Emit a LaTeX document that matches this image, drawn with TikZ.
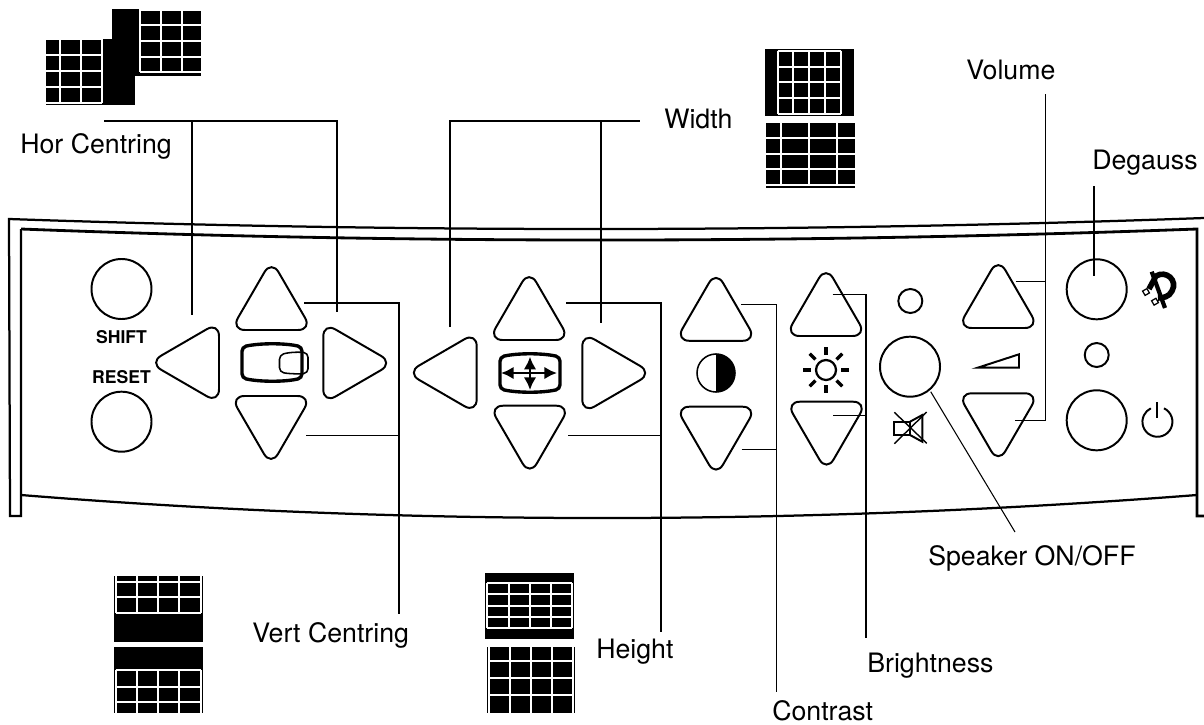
\documentclass[tikz,border=0pt]{standalone}
\usepackage{fontspec}
\usetikzlibrary{arrows.meta}
\setmainfont{TeX Gyre Heros}

\tikzset{
  btnline/.style={line width=1.4pt,line join=round},
  rndbtn/.style={circle,draw,line width=1.4pt,minimum size=1.5cm,inner sep=0pt},
  ledlamp/.style={circle,draw,line width=1.4pt,minimum size=0.6cm,inner sep=0pt},
  leader/.style={line width=0.75pt},
  lbl/.style={anchor=base west,font=\fontsize{19}{19}\selectfont,inner sep=0pt},
  keylbl/.style={font=\bfseries\fontsize{12.5}{13}\selectfont,inner sep=0pt},
  bezel/.style={line width=1.6pt},
  gridline/.style={white,line width=1.3pt}
}

% rounded triangle key: name, centre x, centre y, rotation
\newcommand{\tribtn}[4]{%
  \coordinate (#1) at (#2,#3);
  \draw[btnline,shift={(#2,#3)},rotate=#4,rounded corners=10pt]
    (0,-46.7) -- (40.6,23.3) -- (-40.6,23.3) -- cycle;}
\newcommand{\gridV}[3]{\foreach \gx in {#1} \draw[gridline] (\gx,#2) -- (\gx,#3);}
\newcommand{\gridH}[3]{\foreach \gy in {#1} \draw[gridline] (#2,\gy) -- (#3,\gy);}

\begin{document}
\begin{tikzpicture}[x=0.025cm,y=-0.025cm]
  \useasboundingbox (0,0) rectangle (1204,724);

  % --- Bezel ---
  \draw[bezel] (1204,218) .. controls (800,232.5) and (400,232.5) .. (9,219)
       -- (10,516) -- (21,516) -- (21,229);
  \draw[bezel,line width=2pt] (21,229) .. controls (400,243.7) and (800,243.7) .. (1197,229)
       -- (1197,516) -- (1204,516);
  \draw[bezel] (21,495) .. controls (400,525.7) and (800,525.7) .. (1197,495);

  % --- Round keys ---
  \node[rndbtn] (shiftkey) at (121.5,289) {};
  \node[rndbtn] (resetkey) at (121.5,421.7) {};
  \node[rndbtn] (mutekey) at (910,366.7) {};
  \node[rndbtn] (degausskey) at (1096.7,289.3) {};
  \node[rndbtn] (powerkey) at (1096.7,420.3) {};
  \node[ledlamp] (mutelamp) at (910.3,301) {};
  \node[ledlamp] (powerlamp) at (1096.7,355) {};
  \node[keylbl] (shiftlbl) at (121.5,337) {SHIFT};
  \node[keylbl] (resetlbl) at (121.5,377) {RESET};

  % --- Triangle keys ---
  \tribtn{hcup}{271.5}{306.7}{0}
  \tribtn{hcdn}{271}{419.3}{180}
  \tribtn{hcle}{195.7}{362.7}{90}
  \tribtn{hcri}{346.6}{363}{-90}
  \tribtn{whup}{529.2}{316.7}{0}
  \tribtn{whdn}{529.7}{429}{180}
  \tribtn{whle}{453.4}{372.7}{90}
  \tribtn{whri}{605.6}{373}{-90}
  \tribtn{coup}{716}{317.5}{0}
  \tribtn{codn}{716}{430}{180}
  \tribtn{brup}{826}{312.7}{0}
  \tribtn{brdn}{826.5}{425}{180}
  \tribtn{voup}{998.3}{304.7}{0}
  \tribtn{vodn}{998.3}{416.6}{180}

  % --- Icons ---
  \draw[line width=2.4pt,rounded corners=3pt] (242,347) .. controls (260,343) and (285,343) .. (302,347)
       -- (302,378) .. controls (285,382) and (260,382) .. (242,378) -- cycle;
  \draw[line width=1.1pt,rounded corners=3pt] (279.5,355) .. controls (290,352) and (300,352) .. (308,353)
       -- (308,373) .. controls (300,374) and (290,374) .. (279.5,372) -- cycle;

  \draw[line width=2.4pt,rounded corners=3pt] (500,357) .. controls (518,353) and (542,353) .. (560,357)
       -- (560,389) .. controls (542,393) and (518,393) .. (500,389) -- cycle;
  \draw[line width=1.8pt,<->,>={Latex[length=9pt,width=9pt]}] (501,373) -- (557,373);
  \draw[line width=1.8pt,<->,>={Latex[length=9pt,width=9pt]}] (530,356.7) -- (530,390);

  \node[circle,draw,line width=1.1pt,minimum size=0.95cm,inner sep=0pt] (contrasticon) at (716,373) {};
  \fill (716,354) arc[start angle=-90,end angle=90,radius=19] -- cycle;

  \draw[line width=1.6pt] (826,370) circle[radius=10];
  \foreach \ang in {0,45,...,315}
    \draw[line width=2.4pt] ({826+15*cos(\ang)},{370+15*sin(\ang)}) -- ({826+23*cos(\ang)},{370+23*sin(\ang)});

  \draw[line width=1.4pt] (894.3,421.7) rectangle (910,435);
  \draw[line width=1.4pt] (910,421.7) -- (922.3,415) -- (922.3,441.7) -- (910,435);
  \draw[line width=1pt] (894.3,412.3) -- (926.7,443.3);
  \draw[line width=1pt] (894.3,443.7) -- (926.7,412);

  \draw[line width=1.4pt] (977.7,367.7) -- (1019,367.7) -- (1019,354.3) -- cycle;

  % degauss plug
  \draw[line width=3pt] (1151.7,271.7) -- (1165,308);
  \draw[line width=4pt] (1149,289) -- (1156,276) .. controls (1166,270) and (1178,280) .. (1172,291)
       .. controls (1169,297) and (1163,298) .. (1158,298);
  \draw[line width=0.9pt,fill=white,rotate around={30:(1146,292)}] (1143.5,289.5) rectangle (1148.5,294.5);
  \draw[line width=0.9pt,fill=white,rotate around={30:(1155,301.7)}] (1152.5,299.2) rectangle (1157.5,304.2);

  % power sign
  \draw[line width=1.4pt] (1164,408.3) arc[start angle=-64,end angle=244,radius=15];
  \draw[line width=1.4pt] (1157.3,402.3) -- (1157.3,418);

  % --- Leaders ---
  \coordinate (hcA) at (104,121);
  \coordinate (hcB) at (337,121);
  \coordinate (hcC) at (192,121);
  \coordinate (hcD) at (192,315);
  \coordinate (hcE) at (337,312);
  \draw[leader] (hcA) -- (hcB) -- (hcE);
  \draw[leader] (hcC) -- (hcD);

  \coordinate (vcA) at (304,303);
  \coordinate (vcB) at (399,303);
  \coordinate (vcC) at (399,614);
  \coordinate (vcD) at (306,435.7);
  \coordinate (vcE) at (399,435.7);
  \draw[leader] (vcA) -- (vcB) -- (vcC);
  \draw[leader] (vcD) -- (vcE);

  \coordinate (wiA) at (450,327);
  \coordinate (wiB) at (450,121);
  \coordinate (wiC) at (640,121);
  \coordinate (wiD) at (601,121);
  \coordinate (wiE) at (601,323);
  \draw[leader] (wiA) -- (wiB) -- (wiC);
  \draw[leader] (wiD) -- (wiE);

  \coordinate (heA) at (566,303);
  \coordinate (heB) at (661,303);
  \coordinate (heC) at (661,632);
  \coordinate (heD) at (568,435.7);
  \coordinate (heE) at (661,435.7);
  \draw[leader] (heA) -- (heB) -- (heC);
  \draw[leader] (heD) -- (heE);

  \coordinate (ctA) at (741,304.3);
  \coordinate (ctB) at (776.7,304.3);
  \coordinate (ctC) at (776.7,692);
  \coordinate (ctD) at (741.6,449.7);
  \coordinate (ctE) at (776.7,449.7);
  \draw[leader] (ctA) -- (ctB) -- (ctC);
  \draw[leader] (ctD) -- (ctE);

  \coordinate (bgA) at (832.7,294.3);
  \coordinate (bgB) at (866,294.3);
  \coordinate (bgC) at (866,638);
  \coordinate (bgD) at (833,415.7);
  \coordinate (bgE) at (866,415.7);
  \draw[leader] (bgA) -- (bgB) -- (bgC);
  \draw[leader] (bgD) -- (bgE);

  \coordinate (voA) at (1045.7,94);
  \coordinate (voB) at (1045.7,420.5);
  \coordinate (voC) at (1015,420.5);
  \coordinate (voD) at (1015.7,281.7);
  \coordinate (voE) at (1045.7,281.7);
  \draw[leader] (voA) -- (voB) -- (voC);
  \draw[leader] (voD) -- (voE);

  \coordinate (dgA) at (1094,186);
  \coordinate (dgB) at (1094,276);
  \draw[leader] (dgA) -- (dgB);

  \coordinate (spA) at (930.7,391.7);
  \coordinate (spB) at (1015,532);
  \draw[leader] (spA) -- (spB);

  % --- Labels ---
  \node[lbl] (hclbl) at (20,153) {Hor Centring};
  \node[lbl] (wilbl) at (664,128.5) {Width};
  \node[lbl] (volbl) at (966,79) {Volume};
  \node[lbl] (dglbl) at (1092,169) {Degauss};
  \node[lbl] (splbl) at (928,565.7) {Speaker ON/OFF};
  \node[lbl] (vclbl) at (252,642) {Vert Centring};
  \node[lbl] (helbl) at (596,658) {Height};
  \node[lbl] (bglbl) at (867,672) {Brightness};
  \node[lbl] (ctlbl) at (772,720) {Contrast};

  % --- Test patterns: top left ---
  \fill (112,9) rectangle (139,76);
  \fill (139,10) rectangle (201,76);
  \fill (46,39) rectangle (135,105);
  \fill (103,39) rectangle (135,105);
  \gridV{140,161,182}{10}{72}
  \gridH{10,25,40.7,56.7,72.3}{140}{201}
  \gridV{60,81,102.3}{39}{103.3}
  \gridH{39.3,55,71,86.7,103.3}{46}{102.3}

  % --- Test patterns: top right ---
  \fill (765,49) rectangle (854,116);
  \gridV{777.7,793.3,809,825,840.7}{50.7}{114}
  \gridH{50.7,66.7,82.3,98.3,114}{777.7}{840.7}
  \fill (766,120.7) rectangle (855,187.7);
  \gridV{780.7,808.7,837}{122.3}{185}
  \gridH{122.3,138.3,154,169.3,185}{766}{855}

  % --- Test patterns: bottom left ---
  \fill (114,576) rectangle (202.7,641.7);
  \gridV{115.7,137,158.3,179.3,200.7}{576}{612.7}
  \gridH{582,597.3,612.7}{115.7}{200.7}
  \fill (114,647) rectangle (202.7,712.7);
  \gridV{115.7,137,158.3,179.3,200.7}{670}{712.7}
  \gridH{670,686.7,702.3}{115.7}{200.7}

  % --- Test patterns: bottom middle ---
  \fill (485,572.7) rectangle (574,639);
  \gridV{487.3,508.7,530,551.3,572.3}{583.3}{627.7}
  \gridH{583.3,594.3,605.7,616.7,627.7}{487.3}{572.3}
  \fill (486.7,647) rectangle (575,712.7);
  \gridV{489.3,510,531,552.3,573}{647}{712.7}
  \gridH{661,678.3,695}{489.3}{573}
\end{tikzpicture}
\end{document}
